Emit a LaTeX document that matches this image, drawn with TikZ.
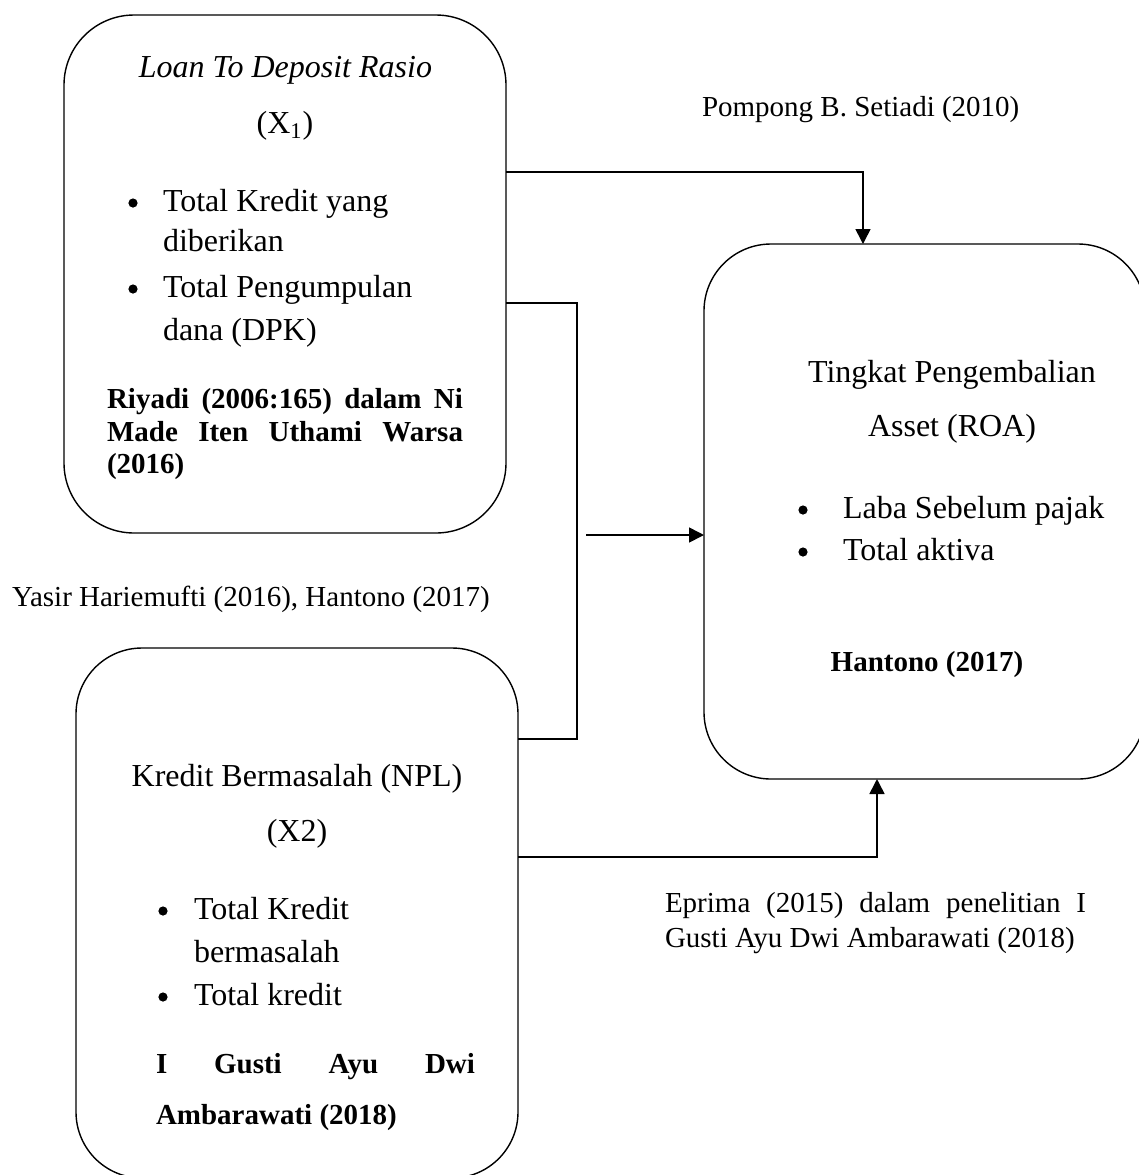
\documentclass[tikz,border=0pt]{standalone}
\usepackage{fontspec}
\setmainfont{Liberation Serif}
\usetikzlibrary{arrows.meta}
\begin{document}
\begin{tikzpicture}[x=0.5pt,y=-0.5pt,
  box/.style={draw, line width=0.7pt, inner sep=0pt, outer sep=0pt},
  conn/.style={line width=0.8pt},
  arr/.style={conn,-{Triangle[length=7.5pt,width=7.5pt]}},
  dot/.style={circle, fill, inner sep=0pt, outer sep=0pt, minimum size=4.6pt},
  tb/.style={inner sep=0pt, outer sep=0pt, anchor=base west, font=\fontsize{16}{19}\selectfont},
  tbc/.style={tb, anchor=base},
  bd/.style={inner sep=0pt, outer sep=0pt, anchor=base west, font=\fontsize{14.5}{17}\selectfont\bfseries},
  lbl/.style={inner sep=0pt, outer sep=0pt, anchor=base west, font=\fontsize{14.5}{17}\selectfont},
]
\path[use as bounding box] (0,0) rectangle (1139,1175);
\clip (0,0) rectangle (1139,1175);

% boxes
\node[box, rounded corners=35pt, minimum width=221pt, minimum height=259pt] (b1) at (285,274) {};
\node[box, rounded corners=33pt, minimum width=221pt, minimum height=265pt] (b2) at (297,913) {};
\node[box, rounded corners=33.5pt, minimum width=220.5pt, minimum height=267.5pt] (b3) at (924.5,511.5) {};

% box 1 text
\node[tbc, font=\fontsize{16}{19}\selectfont\itshape] (t1a) at (285.5,77) {Loan To Deposit Rasio};
\node[tbc] (t1b) at (285,133) {(X\textsubscript{1})};
\node[dot] (t1c0) at (133,203) {};
\node[tb] (t1c) at (163,211) {Total Kredit yang};
\node[tb] (t1d) at (163,251) {diberikan};
\node[dot] (t1e0) at (133,289) {};
\node[tb] (t1e) at (163,297) {Total Pengumpulan};
\node[tb] (t1f) at (163,340) {dana (DPK)};
\node[bd] (t1g) at (107,408) {\makebox[178pt][s]{Riyadi (2006:165) dalam Ni}};
\node[bd] (t1h) at (107,441) {\makebox[178pt][s]{Made Iten Uthami Warsa}};
\node[bd] (t1i) at (107,473) {(2016)};

% outside labels
\node[lbl] (l1) at (702,116) {Pompong B. Setiadi (2010)};
\node[lbl] (l2) at (12,606) {Yasir Hariemufti (2016), Hantono (2017)};
\node[lbl] (l3a) at (665,912) {\makebox[210.5pt][s]{Eprima (2015) dalam penelitian I}};
\node[lbl] (l3b) at (665,947) {Gusti Ayu Dwi Ambarawati (2018)};

% box 3 text
\node[tbc] (t3a) at (952,382) {Tingkat Pengembalian};
\node[tbc] (t3b) at (952,436) {Asset (ROA)};
\node[dot] (t3c0) at (803,510) {};
\node[tb] (t3c) at (843,518) {Laba Sebelum pajak};
\node[dot] (t3d0) at (803,552) {};
\node[tb] (t3d) at (843,560) {Total aktiva};
\node[bd, anchor=base] (t3e) at (927,671) {Hantono (2017)};

% box 2 text
\node[tbc] (t2a) at (297,786) {Kredit Bermasalah (NPL)};
\node[tbc] (t2b) at (297,841) {(X2)};
\node[dot] (t2c0) at (163,911) {};
\node[tb] (t2c) at (194,919) {Total Kredit};
\node[tb] (t2d) at (194,962) {bermasalah};
\node[dot] (t2e0) at (163,997) {};
\node[tb] (t2e) at (194,1005) {Total kredit};
\node[bd] (t2f) at (156,1073) {\makebox[159.5pt][s]{I Gusti Ayu Dwi}};
\node[bd] (t2g) at (156,1124) {Ambarawati (2018)};

% connectors
\coordinate (p1) at (863,172);
\draw[arr] (b1.east |- p1) -- (p1) -- (p1 |- b3.north);
\coordinate (p2) at (577,303);
\coordinate (p3) at (577,739);
\draw[conn] (b1.east |- p2) -- (p2) -- (p3) -- (b2.east |- p3);
\coordinate (p4) at (586,535);
\draw[arr] (p4) -- (p4 -| b3.west);
\coordinate (p5) at (877,857);
\draw[arr] (b2.east |- p5) -- (p5) -- (p5 |- b3.south);
\end{tikzpicture}
\end{document}
